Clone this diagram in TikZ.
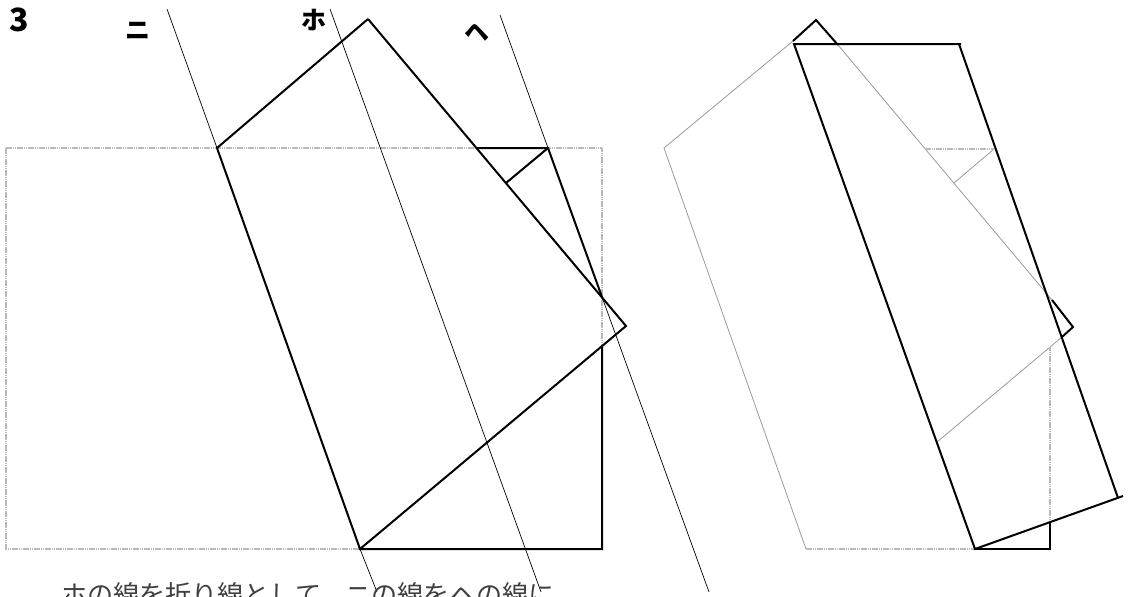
\documentclass[tikz,border=0pt]{standalone}
\usepackage{fontspec}
\usepackage{xcolor}
\newfontfamily\cjk{Noto Sans CJK JP}
\usepackage{tikz}

\begin{document}
\begin{tikzpicture}[
  x=1pt, y=-1pt,
  fold/.style={line width=2pt, line join=miter},
  crease/.style={line width=0.7pt},
  ghost/.style={line width=0.8pt, gray!80},
  ghostdash/.style={line width=1.4pt, gray!55, dash pattern=on 1.6pt off 0.6pt},
  letter/.style={font=\cjk\bfseries\fontsize{25}{25}\selectfont, inner sep=0pt},
  caption/.style={font=\cjk\fontsize{26.1}{26.1}\selectfont, anchor=west, inner sep=0pt, text=black!75},
]
\useasboundingbox (0,0) rectangle (1128,597);

% Left sheet: corners and fold points
\coordinate (tl) at (6,148);
\coordinate (tr) at (602,148);
\coordinate (bl) at (6,549);
\coordinate (br) at (602,549);
\coordinate (p) at (217,148);
\coordinate (q) at (360,549);
\coordinate (apex) at (368,19);
\coordinate (tip) at (626,326);
\coordinate (g) at (477,148);
\coordinate (h) at (548,148);
\coordinate (k) at (506,183);
\coordinate (m) at (602,297);
\coordinate (n) at (602,346);

% Crease ends
\coordinate (ni1) at (167,9);
\coordinate (ni2) at (377,592);
\coordinate (ho1) at (330,9);
\coordinate (ho2) at (541,592);
\coordinate (he1) at (500,15);
\coordinate (he2) at (709,592);

% Left sheet outline
\draw[ghostdash] (tl) -- (tr) -- (br);
\draw[ghostdash] (tl) -- (bl) -- (q);

% Left sheet folded
\draw[fold] (apex) -- (p) -- (q) -- (br) -- (n);
\draw[fold] (q) -- (tip) -- (apex);
\draw[fold] (g) -- (h) -- (m);
\draw[fold] (h) -- (k);

% Creases
\draw[crease] (ni1) -- (p);
\draw[crease] (q) -- (ni2);
\draw[crease] (ho1) -- (ho2);
\draw[crease] (he1) -- (h);
\draw[crease] (m) -- (he2);

% Right sheet: points
\coordinate (ra) at (664,148);
\coordinate (rb) at (793,41);
\coordinate (rapex) at (816,20);
\coordinate (rc) at (838,45);
\coordinate (rd) at (1052,300);
\coordinate (rtip) at (1073,327);
\coordinate (re) at (1062,337);
\coordinate (rf) at (937,442);
\coordinate (rq) at (806,549);
\coordinate (rs) at (975,549);
\coordinate (rt) at (794,44);
\coordinate (ru) at (961,44);
\coordinate (ru2) at (959,44);
\coordinate (rv) at (1118,498);
\coordinate (rw) at (1123,496);
\coordinate (rx) at (1050,549);
\coordinate (ry) at (1050,522);
\coordinate (rz) at (1050,347);
\coordinate (rg) at (925,149);
\coordinate (rh) at (994,149);
\coordinate (rk) at (954,183);

% Right sheet: what lies under the fold
\draw[ghost] (rb) -- (ra) -- (rq);
\draw[ghost] (rc) -- (rd);
\draw[ghost] (re) -- (rf);
\draw[ghost] (rh) -- (rk);
\draw[ghostdash] (rq) -- (rs);
\draw[ghostdash] (rx) -- (rz);
\draw[ghostdash] (rg) -- (rh);

% Right sheet: folded edges
\draw[fold] (rb) -- (rapex) -- (rc);
\draw[fold] (rd) -- (rtip) -- (re);
\draw[fold] (ru) -- (rt) -- (rs) -- (rw);
\draw[fold] (ru2) -- (rv);
\draw[fold] (rs) -- (rx) -- (ry);

% Labels
\node[letter, font=\cjk\bfseries\fontsize{32}{32}\selectfont] (num) at (19,20) {3};
\node[letter] (ni) at (138,31) {ニ};
\node[letter] (ho) at (314,20) {ホ};
\node[letter] (he) at (477,33) {ヘ};
\node[caption] (cap) at (61,595) {ホの線を折り線として，ニの線をヘの線に};
\end{tikzpicture}
\end{document}
